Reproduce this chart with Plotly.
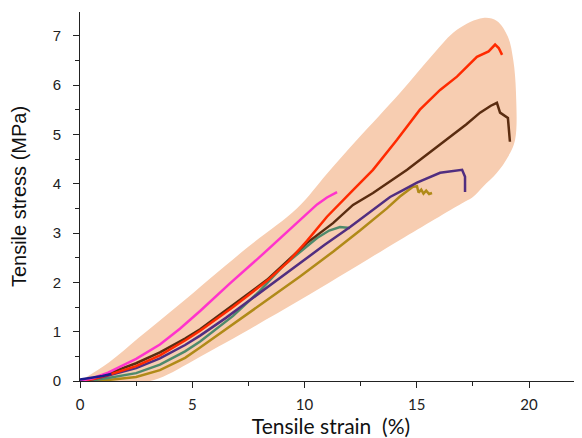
import plotly.graph_objects as go

# Envelope (shaded region) outline, data coords
env_x = [0, 1.3, 2.6, 4.45, 7.44, 9.67, 11.0, 12.34, 14.25, 15.72, 16.79, 17.95, 18.57, 19.06, 19.3, 19.42, 19.38, 19.06,
         18.57, 17.95, 17.5, 17.0, 14.25, 9.8, 5.35, 3.5, 2.5, 0]
env_y = [0, 0.38, 0.87, 1.56, 2.70, 3.50, 4.20, 4.89, 5.84, 6.62, 7.12, 7.36, 7.30, 6.98, 6.5, 5.84, 4.89, 4.54,
         4.22, 3.94, 3.73, 3.60, 2.86, 1.64, 0.49, 0.05, -0.04, -0.06]

red_x = [0, 0.6, 1.25, 2.5, 3.56, 4.68, 5.35, 6.82, 8.33, 9.3, 10.11, 11.0, 12.16, 13.05, 14.12, 15.14, 16.04, 16.79, 17.68, 18.2, 18.49, 18.65, 18.8]
red_y = [0, 0.04, 0.12, 0.30, 0.52, 0.82, 1.02, 1.50, 2.03, 2.43, 2.84, 3.33, 3.87, 4.28, 4.89, 5.50, 5.90, 6.17, 6.57, 6.68, 6.82, 6.75, 6.61]

brown_x = [0, 0.6, 1.25, 2.5, 3.56, 4.68, 5.35, 6.82, 8.33, 10.11, 11.27, 12.16, 13.05, 14.57, 15.5, 16.48, 17.2, 17.82, 18.3, 18.57, 18.71, 19.06, 19.15]
brown_y = [0, 0.05, 0.15, 0.36, 0.58, 0.86, 1.05, 1.54, 2.05, 2.80, 3.20, 3.57, 3.81, 4.28, 4.60, 4.95, 5.20, 5.44, 5.58, 5.64, 5.44, 5.33, 4.85]

purple_x = [0, 0.6, 1.25, 2.5, 3.56, 4.68, 5.35, 6.5, 7.57, 8.7, 9.8, 10.9, 12.03, 13.0, 13.81, 14.39, 15.01, 16.04, 16.6, 17.02, 17.15, 17.15]
purple_y = [0, 0.04, 0.11, 0.26, 0.46, 0.73, 0.92, 1.28, 1.64, 2.02, 2.39, 2.76, 3.12, 3.45, 3.73, 3.87, 4.02, 4.22, 4.25, 4.28, 4.14, 3.83]

green_x = [0, 0.6, 1.25, 2.5, 3.56, 4.68, 5.35, 6.82, 8.0, 9.04, 10.56, 11.1, 11.58, 12.03]
green_y = [0, 0.02, 0.06, 0.16, 0.33, 0.60, 0.80, 1.32, 1.82, 2.33, 2.90, 3.05, 3.12, 3.10]

olive_x = [0, 0.6, 1.25, 2.5, 3.56, 4.68, 5.35, 6.8, 8.33, 9.8, 11.27, 12.47, 13.05, 13.67, 14.25, 14.8, 15.01, 15.08, 15.2, 15.3, 15.42, 15.55, 15.68]
olive_y = [0, 0.0, 0.02, 0.08, 0.22, 0.47, 0.68, 1.14, 1.64, 2.12, 2.62, 3.05, 3.27, 3.50, 3.74, 3.93, 3.95, 3.82, 3.88, 3.80, 3.86, 3.79, 3.81]

pink_x = [0, 0.6, 1.25, 2.5, 3.56, 4.45, 5.35, 6.68, 8.02, 9.04, 10.0, 10.56, 11.0, 11.45]
pink_y = [0, 0.06, 0.17, 0.45, 0.74, 1.06, 1.42, 1.98, 2.52, 2.94, 3.33, 3.58, 3.72, 3.83]

navy_x = [0, 0.5, 1.0, 1.4]
navy_y = [0.03, 0.06, 0.10, 0.14]

x_ticks = [0, 5, 10, 15, 20]
y_ticks = [0, 1, 2, 3, 4, 5, 6, 7]

fig = go.Figure()
fig.add_trace(go.Scatter(x=env_x, y=env_y, mode="lines", fill="toself",
                         fillcolor="#F7CDB1", line=dict(color="#F7CDB1", width=0, shape="spline", smoothing=1.0),
                         hoverinfo="skip", showlegend=False))

series = [
    (olive_x, olive_y, "#B08A18"),
    (green_x, green_y, "#4E8A6B"),
    (purple_x, purple_y, "#512E80"),
    (brown_x, brown_y, "#5A2C10"),
    (red_x, red_y, "#FF2A00"),
    (pink_x, pink_y, "#FF33CC"),
    (navy_x, navy_y, "#1C1C8E"),
]
for xs, ys, c in series:
    fig.add_trace(go.Scatter(x=xs, y=ys, mode="lines",
                             line=dict(color=c, width=2.5),
                             showlegend=False))

# the page body has an 8px margin, so the figure is offset by 8px
fig.update_layout(
    width=574, height=430,
    margin=dict(l=72, r=0, t=4, b=57),
    paper_bgcolor="white", plot_bgcolor="white",
    xaxis=dict(range=[0, 22.36], tickvals=x_ticks, showgrid=False, zeroline=False, automargin=False,
               showline=True, linecolor="#222", linewidth=1, ticks="outside", ticklen=6,
               tickcolor="#222", tickfont=dict(family="Lato", size=15, color="#222"),
               ticklabelstandoff=4,
               minor=dict(dtick=2.5, ticks="outside", ticklen=4, tickcolor="#222"),
               title=dict(text="Tensile strain\u00a0 (%)", font=dict(family="Lato", size=21, color="#111"), standoff=8)),
    yaxis=dict(range=[0, 7.48], tickvals=y_ticks, showgrid=False, zeroline=False, automargin=False,
               showline=True, linecolor="#222", linewidth=1, ticks="outside", ticklen=6,
               tickcolor="#222", tickfont=dict(family="Liberation Sans", size=15, color="#222"),
               ticklabelstandoff=9,
               minor=dict(dtick=0.5, ticks="outside", ticklen=4, tickcolor="#222"),
               title=dict(text="Tensile stress (MPa)", font=dict(family="Liberation Sans", size=20, color="#111"), standoff=21)),
)
fig.write_html("out.html")
